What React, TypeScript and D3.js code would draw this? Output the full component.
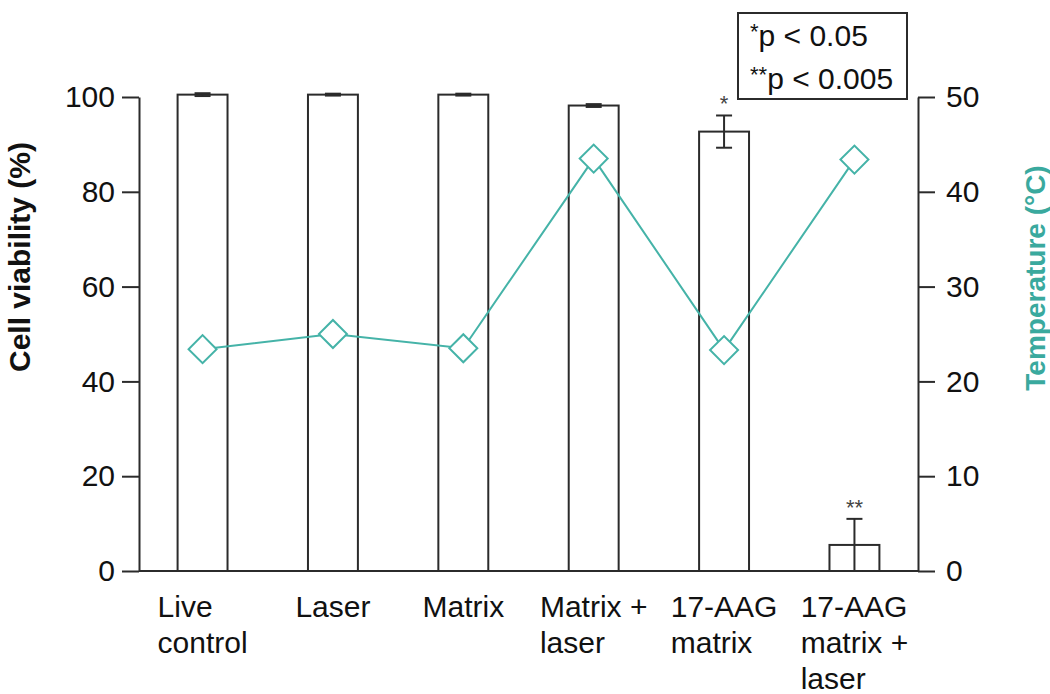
import { useEffect, useRef } from "react";
import * as d3 from "d3";

const categories = [
  "Live control",
  "Laser",
  "Matrix",
  "Matrix + laser",
  "17-AAG matrix",
  "17-AAG matrix + laser",
];
const categoryLines = [
  ["Live", "control"],
  ["Laser"],
  ["Matrix"],
  ["Matrix +", "laser"],
  ["17-AAG", "matrix"],
  ["17-AAG", "matrix +", "laser"],
];
const viability = [100.5, 100.5, 100.5, 98.2, 92.7, 5.5];
const viabilityErr = [0.3, 0.2, 0.2, 0.3, 3.4, 5.5];
const temperature = [23.4, 25.0, 23.5, 43.5, 23.3, 43.4];
const significance = ["", "", "", "", "*", "**"];
const leftTicks = [0, 20, 40, 60, 80, 100];
const rightTicks = [0, 10, 20, 30, 40, 50];
const legendRows = [
  { stars: "*", text: "p < 0.05" },
  { stars: "**", text: "p < 0.005" },
];

const TEAL = "#45b3a8";
const INK = "#2b2b2b";
const FONT = "'Liberation Sans', Arial, Helvetica, sans-serif";

export default function App() {
  const ref = useRef<SVGSVGElement | null>(null);

  useEffect(() => {
    if (!ref.current) return;
    const svg = d3.select(ref.current);
    svg.selectAll("*").remove();

    const width = 1050;
    const height = 694;
    const left = 139;
    const right = 918;
    const top = 97;
    const bottom = 571;

    svg.attr("width", width).attr("height", height).style("font-family", FONT);

    const x = d3
      .scaleBand()
      .domain(categories)
      .range([left, right])
      .paddingInner(0.617)
      .paddingOuter(0.296);
    const y = d3.scaleLinear().domain([0, 100]).range([bottom, top]);
    const yRight = d3.scaleLinear().domain([0, 50]).range([bottom, top]);

    // axes
    const axL = svg
      .append("g")
      .attr("transform", `translate(${left},0)`)
      .call(d3.axisLeft(y).tickValues(leftTicks).tickSize(17).tickSizeOuter(0).tickPadding(7));
    const axR = svg
      .append("g")
      .attr("transform", `translate(${right},0)`)
      .call(d3.axisRight(yRight).tickValues(rightTicks).tickSize(17).tickSizeOuter(0).tickPadding(11));
    [axL, axR].forEach((ax) => {
      ax.selectAll("path, line").attr("stroke", INK).attr("stroke-width", 2);
      ax.selectAll("text")
        .attr("fill", "#111")
        .style("font-size", "30px")
        .style("font-family", FONT);
    });

    svg
      .append("line")
      .attr("x1", left)
      .attr("x2", right)
      .attr("y1", bottom)
      .attr("y2", bottom)
      .attr("stroke", INK)
      .attr("stroke-width", 2);

    // bars
    const bw = x.bandwidth();
    svg
      .append("g")
      .selectAll("rect")
      .data(categories)
      .join("rect")
      .attr("x", (d) => x(d)!)
      .attr("y", (d, i) => y(viability[i]))
      .attr("width", bw)
      .attr("height", (d, i) => y(0) - y(viability[i]))
      .attr("fill", "#fff")
      .attr("stroke", INK)
      .attr("stroke-width", 2);

    // error bars
    const cap = 8;
    const eb = svg.append("g").attr("stroke", INK).attr("stroke-width", 2);
    categories.forEach((c, i) => {
      const cx = x(c)! + bw / 2;
      const hi = y(viability[i] + viabilityErr[i]);
      const lo = y(Math.max(0, viability[i] - viabilityErr[i]));
      eb.append("line").attr("x1", cx).attr("x2", cx).attr("y1", hi).attr("y2", lo);
      eb.append("line").attr("x1", cx - cap).attr("x2", cx + cap).attr("y1", hi).attr("y2", hi);
      eb.append("line").attr("x1", cx - cap).attr("x2", cx + cap).attr("y1", lo).attr("y2", lo);
    });

    // significance stars
    svg
      .append("g")
      .selectAll("text")
      .data(categories)
      .join("text")
      .attr("x", (d) => x(d)! + bw / 2)
      .attr("y", (d, i) => y(viability[i] + viabilityErr[i]) - 4)
      .attr("text-anchor", "middle")
      .attr("fill", "#444")
      .style("font-size", "22px")
      .text((d, i) => significance[i]);

    // temperature line
    const line = d3
      .line<number>()
      .x((d, i) => x(categories[i])! + bw / 2)
      .y((d) => yRight(d));
    svg
      .append("path")
      .datum(temperature)
      .attr("fill", "none")
      .attr("stroke", TEAL)
      .attr("stroke-width", 2)
      .attr("d", line);

    const diamond = d3.symbol().type(d3.symbolSquare).size(392);
    svg
      .append("g")
      .selectAll("path")
      .data(temperature)
      .join("path")
      .attr("d", diamond)
      .attr(
        "transform",
        (d, i) => `translate(${x(categories[i])! + bw / 2},${yRight(d)}) rotate(45)`,
      )
      .attr("fill", "#fff")
      .attr("stroke", TEAL)
      .attr("stroke-width", 2);

    // category labels
    categoryLines.forEach((lines, i) => {
      const cx = x(categories[i])! + bw / 2;
      const g = svg.append("g");
      const texts = lines.map((t, k) =>
        g
          .append("text")
          .attr("y", 617 + k * 36)
          .attr("fill", "#111")
          .style("font-size", "30px")
          .text(t),
      );
      const maxW = d3.max(texts, (t) => (t.node() as SVGTextElement).getComputedTextLength()) || 0;
      texts.forEach((t) => t.attr("x", cx - maxW / 2));
    });

    // axis titles
    svg
      .append("text")
      .attr("transform", "translate(30,257) rotate(-90)")
      .attr("text-anchor", "middle")
      .attr("fill", "#111")
      .style("font-size", "30px")
      .style("font-weight", "bold")
      .text("Cell viability (%)");
    svg
      .append("text")
      .attr("transform", "translate(1045,278) rotate(-90)")
      .attr("text-anchor", "middle")
      .attr("fill", "#3aa99e")
      .style("font-size", "28px")
      .style("font-weight", "bold")
      .text("Temperature (°C)");

    // legend box
    const lg = svg.append("g");
    lg.append("rect")
      .attr("x", 738)
      .attr("y", 13)
      .attr("width", 169)
      .attr("height", 86)
      .attr("fill", "#fff")
      .attr("stroke", INK)
      .attr("stroke-width", 2);
    legendRows.forEach((r, k) => {
      const t = lg
        .append("text")
        .attr("x", 750)
        .attr("y", 46 + k * 43)
        .attr("fill", "#111")
        .style("font-size", "30px");
      t.append("tspan").attr("dy", -7).style("font-size", "22px").text(r.stars);
      t.append("tspan").attr("dy", 7).text(r.text);
    });
  }, []);

  return (
    <svg
      ref={ref}
      style={{ position: "absolute", left: 0, top: 0, display: "block", background: "#fff" }}
    />
  );
}
